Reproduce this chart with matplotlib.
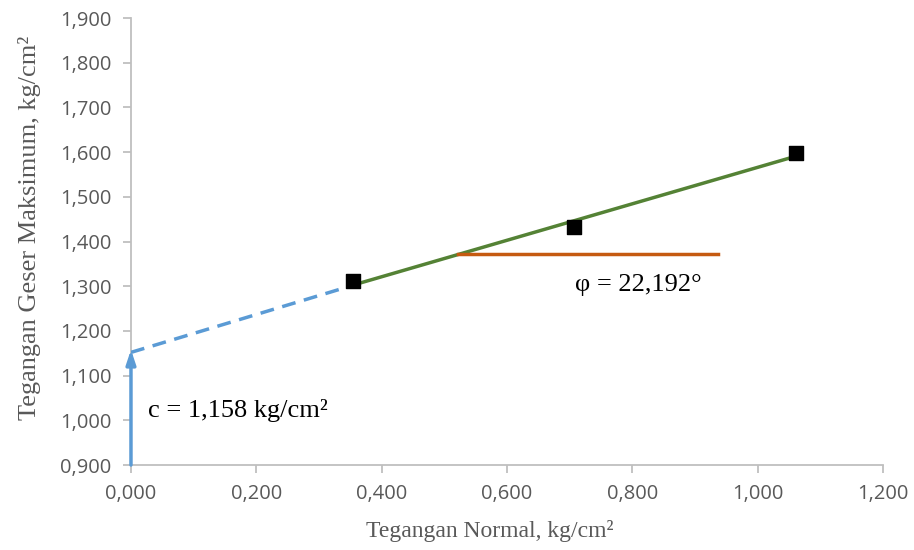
import numpy as np
import matplotlib.pyplot as plt
from matplotlib.ticker import FuncFormatter

# test data
normal = [0.354, 0.707, 1.062]
shear = [1.311, 1.432, 1.598]

# fitted envelope
c = 1.158
phi = 22.192
fit_x = [0.354, 1.062]
dash_x = [0.0, 0.354]
dash_y = [1.152, 1.302]
angle_x = [0.522, 0.937]
angle_y = [1.372, 1.372]

x_ticks = np.arange(0, 1.21, 0.2)
y_ticks = np.arange(0.9, 1.91, 0.1)

def comma_fmt(v, pos):
    return f"{v:.3f}".replace(".", ",")

grey = "#595959"
serif = "Liberation Serif"
sans = "Open Sans"

fig = plt.figure(figsize=(9.14, 5.5), dpi=100)
ax = fig.add_axes([0.1433, 0.1545, 0.8227, 0.8127])

fit_y = [c + np.tan(np.radians(phi)) * xv for xv in fit_x]
ax.plot(fit_x, fit_y, color="#548235", lw=2.5, zorder=3)
ax.plot(dash_x, dash_y, color="#5b9bd5", lw=2.5, ls=(0, (4, 2.5)), zorder=3)
ax.plot(angle_x, angle_y, color="#c55a11", lw=2.5, zorder=3)
ax.annotate("", xy=(0, 1.158), xytext=(0, 0.9),
            arrowprops=dict(arrowstyle="-|>,head_length=0.6,head_width=0.2",
                            color="#5b9bd5", lw=2.5,
                            mutation_scale=14, shrinkA=0, shrinkB=0),
            zorder=4, annotation_clip=False)
ax.scatter(normal, shear, marker="s", s=110, color="black", zorder=5)

ax.text(0.708, 1.303, "φ = 22,192°", fontsize=19, family=serif,
        color="black", va="center", ha="left")
ax.text(0.027, 1.023, "c = 1,158 kg/cm²", fontsize=19, family=serif,
        color="black", va="center", ha="left")

ax.set_xlim(0, 1.2)
ax.set_ylim(0.9, 1.9)
ax.set_xticks(x_ticks)
ax.set_yticks(y_ticks)
ax.xaxis.set_major_formatter(FuncFormatter(comma_fmt))
ax.yaxis.set_major_formatter(FuncFormatter(comma_fmt))
for lab in ax.get_xticklabels() + ax.get_yticklabels():
    lab.set_family(sans)
    lab.set_fontsize(14.5)
    lab.set_color(grey)

ax.tick_params(axis="both", colors="#bfbfbf", length=6, width=1.3,
               direction="out", pad=8)
ax.tick_params(axis="both", labelcolor=grey)
for side in ["top", "right"]:
    ax.spines[side].set_visible(False)
for side in ["left", "bottom"]:
    ax.spines[side].set_color("#bfbfbf")
    ax.spines[side].set_linewidth(1.3)

ax.set_xlabel("Tegangan Normal, kg/cm²", family=serif, fontsize=17,
              color=grey)
ax.set_ylabel("Tegangan Geser Maksimum, kg/cm²", family=serif, fontsize=19,
              color=grey)
ax.xaxis.set_label_coords(0.477, -0.123)
ax.yaxis.set_label_coords(-0.12, 0.53)

fig.savefig("out.png", dpi=100)
